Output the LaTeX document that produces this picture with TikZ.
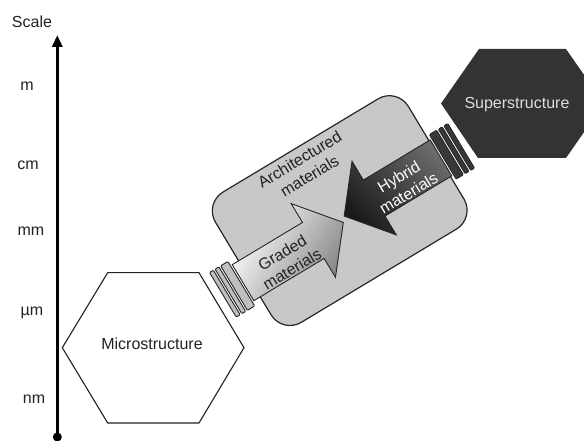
\documentclass[tikz,border=0pt]{standalone}
\usepackage{fontspec}
\setmainfont{Liberation Sans}
\usetikzlibrary{arrows.meta}
\definecolor{boxgray}{HTML}{C8C8C8}
\definecolor{ink}{HTML}{222222}
\definecolor{darkhex}{HTML}{333333}
\definecolor{lighttext}{HTML}{DDDDDD}

\begin{document}
\begin{tikzpicture}[x=1pt,y=1pt,
  lbl/.style={font=\fontsize{16}{19}\selectfont, text=ink, inner sep=0pt},
  rlbl/.style={font=\fontsize{16}{19}\selectfont, align=center, inner sep=0pt},
  hexline/.style={line width=1.1pt, draw=ink, line join=miter},
  outline/.style={draw=black!85, line width=0.9pt, line join=miter},
  lightbar/.style={outline, rounded corners=1pt, fill=black!25},
  darkbar/.style={outline, rounded corners=1pt, fill=black!78}]
\useasboundingbox (0,0) rectangle (584,441);
\clip (0,0) rectangle (584,441);

% scale axis
\coordinate (axbot) at (57.3,4);
\coordinate (axtop) at (57.3,406);
\draw[line width=3pt, -{Triangle[width=10pt,length=12pt]}] (axbot) -- (axtop);
\fill (axbot) circle (4.5);
\node[lbl] (scale) at (32,419) {Scale};
\node[lbl] (m)  at (27,355) {m};
\node[lbl] (cm) at (28,276) {cm};
\node[lbl] (mm) at (31,210) {mm};
\node[lbl] (um) at (32,128) {µm};
\node[lbl] (nm) at (34,42) {nm};

% microstructure hexagon
\draw[hexline, fill=white] (107.7,168.3) -- (199,168.3) -- (244,93.3) -- (199,18)
  -- (107.7,18) -- (62.3,93.3) -- cycle;
\node[lbl] (micro) at (152,97) {Microstructure};

% superstructure hexagon
\fill[darkhex] (479,392) -- (566,392) -- (604,337.5) -- (566,283) -- (478,283)
  -- (441,337.5) -- cycle;
\node[lbl, text=lighttext] (super) at (517,336) {Superstructure};

% architectured materials block with the two arrows
\begin{scope}[shift={(339.7,230.4)}, rotate=31, transform shape]
  \draw[fill=boxgray, draw=black!85, line width=1.2pt, rounded corners=22pt]
    (-112.5,-76) rectangle (112.5,76);

  % graded materials arrow
  \draw[outline, top color=white, bottom color=black!48, shading angle=58]
    (-120,-33) -- (-38,-33) -- (-38,-55) -- (-3,-12) -- (-38,31) -- (-38,9)
    -- (-120,9) -- cycle;
  \draw[lightbar] (-130.5,-38) rectangle (-122,14);
  \draw[lightbar] (-137,-38) rectangle (-132.5,14);
  \draw[lightbar] (-143.5,-38) rectangle (-139,14);

  % hybrid materials arrow
  \draw[outline, top color=black!58, bottom color=black!90, shading angle=-45]
    (114,14) -- (36,14) -- (36,36) -- (1,-7) -- (36,-50) -- (36,-28)
    -- (114,-28) -- cycle;
  \draw[darkbar] (116,-33) rectangle (124.5,19);
  \draw[darkbar] (126.5,-33) rectangle (131,19);
  \draw[darkbar] (133,-33) rectangle (137.5,19);

  \node[rlbl, text=ink] (arch) at (-8,55) {Architectured\\materials};
  \node[rlbl, text=ink] (graded) at (-71,-16) {Graded\\materials};
  \node[rlbl, text=white] (hybrid) at (68,-11) {Hybrid\\materials};
\end{scope}
\end{tikzpicture}
\end{document}
